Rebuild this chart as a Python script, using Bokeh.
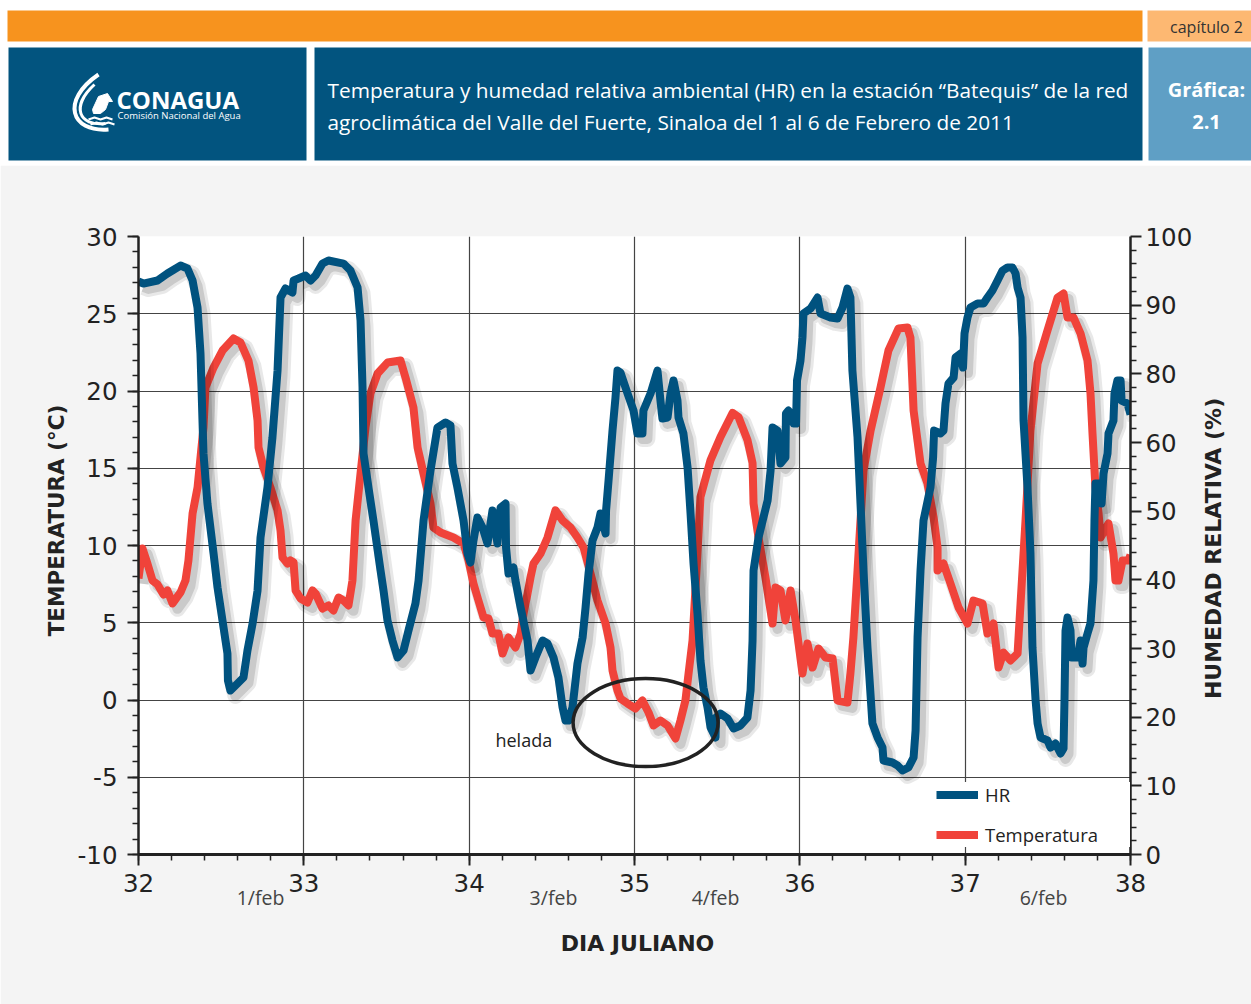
import math
from bokeh.plotting import figure
from bokeh.models import (Range1d, LinearAxis, SingleIntervalTicker, FixedTicker,
                          Legend, LegendItem, Label, ColumnDataSource)
from bokeh.layouts import column
from bokeh.embed import file_html
from bokeh.resources import INLINE
from bokeh.core.properties import value
from bokeh.transform import dodge

# ---------------- data ----------------
temp_day = [32.000, 32.024, 32.054, 32.085, 32.115, 32.151, 32.175, 32.206, 32.254, 32.284,
            32.302, 32.327, 32.357, 32.393, 32.405, 32.454, 32.508, 32.575, 32.617, 32.665,
            32.696, 32.720, 32.726, 32.756, 32.798, 32.841, 32.859, 32.871, 32.901, 32.919,
            32.938, 32.950, 32.980, 33.022, 33.052, 33.071, 33.113, 33.149, 33.179, 33.210,
            33.240, 33.270, 33.294, 33.313, 33.343, 33.373, 33.403, 33.446, 33.506, 33.585,
            33.615, 33.663, 33.688, 33.724, 33.766, 33.784, 33.827, 33.905, 33.966, 33.996,
            34.026, 34.056, 34.087, 34.117, 34.141, 34.177, 34.202, 34.238, 34.280, 34.311,
            34.329, 34.353, 34.371, 34.389, 34.432, 34.474, 34.522, 34.565, 34.613, 34.655,
            34.692, 34.734, 34.776, 34.825, 34.855, 34.867, 34.897, 34.915, 34.958, 35.006,
            35.048, 35.085, 35.115, 35.157, 35.200, 35.248, 35.278, 35.308, 35.327, 35.351,
            35.375, 35.399, 35.460, 35.520, 35.593, 35.629, 35.683, 35.714, 35.720, 35.750,
            35.792, 35.835, 35.853, 35.883, 35.913, 35.944, 35.974, 36.016, 36.046, 36.077,
            36.113, 36.155, 36.198, 36.228, 36.288, 36.306, 36.324, 36.349, 36.385, 36.428,
            36.488, 36.536, 36.597, 36.651, 36.669, 36.688, 36.730, 36.772, 36.809, 36.833,
            36.833, 36.869, 36.911, 36.960, 37.014, 37.050, 37.105, 37.135, 37.171, 37.202,
            37.232, 37.274, 37.317, 37.335, 37.365, 37.395, 37.438, 37.498, 37.559, 37.595,
            37.619, 37.655, 37.698, 37.740, 37.758, 37.770, 37.788, 37.807, 37.819, 37.867,
            37.897, 37.909, 37.927, 37.952, 37.988, 38.000]
temp_c = [7.86, 9.81, 8.83, 7.73, 7.48, 6.83, 7.09, 6.25, 6.96, 7.73,
          9.03, 12.07, 13.75, 17.64, 20.23, 21.52, 22.62, 23.40, 23.14, 21.97,
          20.23, 18.09, 16.34, 15.05, 13.75, 12.27, 10.97, 9.22, 8.83, 9.03,
          8.90, 7.09, 6.57, 6.31, 7.09, 6.89, 5.92, 6.12, 5.79, 6.63,
          6.44, 6.12, 7.73, 11.62, 14.66, 17.64, 19.84, 21.13, 21.84, 21.97,
          20.87, 18.93, 16.34, 14.66, 12.72, 11.17, 10.84, 10.52, 10.13, 9.03,
          7.54, 6.44, 5.34, 5.28, 4.30, 4.30, 3.01, 4.05, 3.40, 4.30,
          5.60, 6.89, 7.93, 8.83, 9.48, 10.52, 12.27, 11.62, 11.17, 10.52,
          9.87, 8.19, 6.44, 4.95, 3.40, 1.91, 0.61, 0.10, -0.23, -0.55,
          -0.03, -0.81, -1.65, -1.33, -1.65, -2.49, -1.33, -0.03, 1.72, 3.85,
          8.38, 13.14, 15.53, 17.02, 18.58, 18.32, 16.83, 15.34, 12.72, 10.52,
          7.93, 4.95, 7.28, 7.09, 5.15, 7.09, 5.15, 1.72, 3.66, 2.10,
          3.33, 2.75, 2.69, -0.03, -0.16, 1.72, 4.05, 8.38, 14.85, 17.44,
          20.23, 22.62, 24.05, 24.11, 23.46, 18.74, 15.31, 14.01, 11.81, 9.87,
          8.38, 8.83, 7.54, 5.99, 4.95, 6.44, 6.25, 4.30, 4.95, 2.10,
          3.07, 2.56, 3.01, 6.25, 11.62, 17.44, 21.78, 23.92, 26.05, 26.31,
          24.76, 24.76, 23.72, 21.97, 19.84, 17.28, 13.75, 12.07, 10.52, 11.42,
          9.48, 7.73, 7.73, 9.03, 9.03, 9.40]

hr_day = [32.000, 32.030, 32.115, 32.175, 32.254, 32.296, 32.327, 32.357, 32.375, 32.387,
          32.393, 32.417, 32.454, 32.478, 32.508, 32.538, 32.541, 32.556, 32.599, 32.635,
          32.659, 32.690, 32.720, 32.738, 32.780, 32.810, 32.841, 32.859, 32.889, 32.931,
          32.938, 32.968, 33.010, 33.040, 33.071, 33.113, 33.149, 33.240, 33.282, 33.325,
          33.343, 33.355, 33.361, 33.391, 33.421, 33.464, 33.482, 33.506, 33.536, 33.567,
          33.603, 33.633, 33.675, 33.694, 33.724, 33.766, 33.808, 33.857, 33.887, 33.899,
          33.929, 33.966, 33.990, 34.008, 34.026, 34.050, 34.081, 34.111, 34.141, 34.171,
          34.190, 34.220, 34.223, 34.238, 34.268, 34.280, 34.311, 34.353, 34.371, 34.401,
          34.444, 34.474, 34.510, 34.540, 34.565, 34.583, 34.601, 34.625, 34.655, 34.686,
          34.704, 34.722, 34.746, 34.776, 34.794, 34.825, 34.828, 34.843, 34.867, 34.885,
          34.897, 34.915, 34.958, 34.994, 35.018, 35.048, 35.054, 35.097, 35.139, 35.157,
          35.169, 35.200, 35.218, 35.236, 35.260, 35.266, 35.296, 35.321, 35.339, 35.357,
          35.381, 35.399, 35.417, 35.442, 35.460, 35.490, 35.493, 35.520, 35.563, 35.599,
          35.641, 35.683, 35.702, 35.714, 35.720, 35.750, 35.805, 35.823, 35.835, 35.865,
          35.883, 35.913, 35.916, 35.931, 35.962, 35.977, 35.983, 36.004, 36.016, 36.022,
          36.065, 36.107, 36.125, 36.185, 36.228, 36.258, 36.288, 36.306, 36.318, 36.349,
          36.367, 36.385, 36.409, 36.439, 36.470, 36.500, 36.506, 36.560, 36.591, 36.621,
          36.657, 36.688, 36.700, 36.712, 36.730, 36.748, 36.790, 36.806, 36.812, 36.851,
          36.869, 36.881, 36.899, 36.930, 36.942, 36.972, 36.987, 36.996, 37.014, 37.032,
          37.075, 37.111, 37.135, 37.165, 37.196, 37.226, 37.256, 37.286, 37.305, 37.317,
          37.335, 37.347, 37.353, 37.377, 37.395, 37.407, 37.426, 37.438, 37.456, 37.498,
          37.516, 37.546, 37.577, 37.595, 37.601, 37.607, 37.619, 37.637, 37.643, 37.680,
          37.698, 37.710, 37.716, 37.740, 37.758, 37.776, 37.782, 37.788, 37.819, 37.825,
          37.837, 37.861, 37.867, 37.897, 37.903, 37.921, 37.940, 37.946, 37.982, 38.000]
hr_val = [83.44, 83.15, 83.59, 84.61, 85.77, 85.34, 83.59, 79.66, 72.96, 63.20,
          58.40, 51.11, 43.83, 38.88, 34.08, 29.27, 25.34, 23.88, 24.90, 25.78,
          29.71, 33.64, 38.44, 46.16, 53.44, 60.73, 70.48, 81.11, 82.42, 81.84,
          83.59, 83.88, 84.32, 83.59, 84.32, 86.06, 86.50, 86.06, 85.04, 82.57,
          77.76, 68.01, 58.40, 53.44, 48.64, 41.36, 38.44, 34.08, 31.16, 28.69,
          29.71, 32.62, 36.55, 39.90, 48.64, 55.92, 62.18, 62.91, 62.47, 56.94,
          53.44, 48.64, 43.83, 42.52, 45.73, 49.08, 47.62, 45.29, 50.09, 45.29,
          50.53, 51.11, 44.71, 40.92, 41.79, 39.90, 35.97, 31.16, 26.80, 28.69,
          31.16, 30.73, 28.69, 25.78, 21.41, 19.51, 19.51, 21.41, 27.81, 31.60,
          35.97, 40.92, 45.73, 47.62, 49.66, 46.75, 50.09, 54.46, 61.74, 66.55,
          70.48, 70.19, 67.13, 64.66, 61.31, 61.31, 64.66, 67.13, 70.48, 66.11,
          63.49, 63.64, 67.13, 69.03, 66.11, 63.64, 61.31, 56.36, 49.66, 42.38,
          35.10, 28.25, 24.32, 21.41, 18.49, 17.04, 19.95, 20.53, 19.80, 18.35,
          18.79, 19.95, 23.88, 31.16, 41.36, 46.16, 51.55, 55.92, 62.18, 61.74,
          56.94, 57.81, 64.22, 64.66, 62.76, 62.76, 69.03, 71.94, 75.29, 78.78,
          79.51, 81.11, 78.78, 78.20, 78.05, 79.66, 82.42, 81.11, 70.48, 60.73,
          51.11, 41.36, 30.14, 19.08, 17.04, 15.58, 13.69, 13.40, 12.96, 12.23,
          12.67, 14.13, 18.06, 31.60, 41.36, 48.64, 53.44, 57.81, 61.74, 61.31,
          61.74, 65.68, 68.59, 69.46, 72.38, 72.96, 70.92, 75.87, 78.20, 79.66,
          80.24, 80.24, 81.11, 82.13, 83.59, 85.04, 85.48, 85.48, 84.61, 82.57,
          81.11, 75.29, 63.20, 53.44, 43.83, 30.14, 22.43, 19.08, 17.04, 16.60,
          15.58, 16.16, 14.71, 15.44, 22.86, 32.62, 34.51, 32.62, 28.69, 28.69,
          31.16, 27.81, 30.14, 32.18, 33.64, 39.90, 48.64, 54.03, 54.03, 51.11,
          55.48, 58.40, 61.31, 63.20, 67.13, 69.03, 69.03, 66.11, 65.68, 64.07]

temp_ticks = [-10, -5, 0, 5, 10, 15, 20, 25, 30]
temp_tick_labels = ["-10", "-5", "0", "5", "10", "15", "20", "25", "30"]
hr_ticks = [0, 10, 20, 30, 40, 50, 60, 70, 80, 90]
hr_tick_labels = ["0", "10", "20", "30", "40", "50", "60", "80", "90", "100"]
date_labels = ["1/feb", "3/feb", "4/feb", "6/feb"]
date_pos = [32.738, 34.510, 35.490, 37.474]

title_lines = ["Temperatura y humedad relativa ambiental (HR) en la estación “Batequis” de la red",
               "agroclimática del Valle del Fuerte, Sinaloa del 1 al 6 de Febrero de 2011"]

W = 1251
HH = 165
CH = 839
BLUE = "#02547F"
RED = "#F0433A"
HRBLUE = "#00527F"

# ---------------- header ----------------
hd = figure(width=W, height=HH, x_range=Range1d(0, W), y_range=Range1d(HH, 0),
            output_backend="svg", toolbar_location=None, min_border=0,
            x_axis_location=None, y_axis_location=None, outline_line_color=None,
            background_fill_color="white", border_fill_color="white")
hd.grid.visible = False
hd.quad(left=[7, 1147, 8, 314, 1148], right=[1142, W, 306, 1142, W],
        top=[10, 10, 47, 47, 47], bottom=[41, 41, 160, 160, 160],
        fill_color=["#F7931E", "#FDB872", BLUE, BLUE, "#5F9FC5"], line_color=None)
hd.text(x=[327, 327], y=[89, 121], text=title_lines, text_font=value("Open Sans"),
        text_font_size="20.8px", text_color="white", text_baseline="middle", text_align="left")
hd.text(x=[1206], y=[26], text=["capítulo 2"], text_font=value("Open Sans"),
        text_font_size="16px", text_color="#333333", text_baseline="middle", text_align="center")
hd.text(x=[1206, 1206], y=[89, 121], text=["Gráfica:", "2.1"], text_font=value("Open Sans"),
        text_font_style="bold", text_font_size="20px", text_color="white",
        text_baseline="middle", text_align="center")
hd.text(x=[116], y=[99], text=["CONAGUA"], text_font=value("Open Sans"), text_font_style="bold",
        text_font_size="24px", text_color="white", text_baseline="middle", text_align="left")
hd.text(x=[117], y=[115], text=["Comisión Nacional del Agua"], text_font=value("Open Sans"),
        text_font_size="9.5px", text_color="white", text_baseline="middle", text_align="left")
# logo strokes
hd.bezier(x0=[98, 94], y0=[74, 84], x1=[108, 105], y1=[129, 123],
          cx0=[60, 70], cy0=[100, 106], cx1=[70, 78], cy1=[132, 126],
          line_color="white", line_width=[4, 3])
hd.patch(x=[92, 98, 107, 112, 108, 105, 100, 93], y=[109, 96, 93, 101, 101, 109, 113, 113],
         fill_color="white", line_color="white")
hd.multi_line(xs=[[88, 94, 100, 106, 112], [90, 96, 102, 108, 114]],
              ys=[[119, 117, 119, 117, 119], [124, 122, 124, 122, 124]],
              line_color="white", line_width=2)

# ---------------- chart ----------------
p = figure(width=W, height=CH, x_range=Range1d(32, 38), y_range=Range1d(-10, 30),
           output_backend="svg", toolbar_location=None,
           min_border_left=138, min_border_right=121, min_border_top=71, min_border_bottom=150,
           background_fill_color="white", border_fill_color="#F4F4F4", outline_line_color=None)
p.extra_y_ranges = {"hr": Range1d(0, 90)}
for f in (hd, p):
    if "frame_align" in f.properties():
        f.frame_align = False

src_t = ColumnDataSource(dict(day=temp_day, temp=temp_c))
src_h = ColumnDataSource(dict(day=hr_day, hr=hr_val))

# soft drop shadows (two layers) then lines
for w, a in ((16, 0.09), (10, 0.13)):
    p.line(x=dodge("day", 0.03), y=dodge("temp", -0.35), source=src_t, line_color="black",
           line_alpha=a, line_width=w, line_join="round")
t_r = p.line(x="day", y="temp", source=src_t, line_color=RED, line_width=8, line_join="round")
for w, a in ((16, 0.09), (10, 0.13)):
    p.line(x=dodge("day", 0.03), y=dodge("hr", -0.79), source=src_h, y_range_name="hr",
           line_color="black", line_alpha=a, line_width=w, line_join="round")
h_r = p.line(x="day", y="hr", source=src_h, y_range_name="hr", line_color=HRBLUE,
             line_width=8, line_join="round")

# frost annotation
p.ellipse(x=[35.067], y=[-1.46], width=[0.877], height=[5.70], fill_color=None,
          line_color="#222222", line_width=3.5)
p.add_layout(Label(x=34.159, y=-2.62, text="helada", text_font="Open Sans", text_font_size="18px",
                   text_color="#222222", text_baseline="middle", text_align="left"))

# axes
ax = p.xaxis[0]
ax.ticker = SingleIntervalTicker(interval=1, num_minor_ticks=5)
ay = p.yaxis[0]
ay.ticker = SingleIntervalTicker(interval=5, num_minor_ticks=5)
ay.major_label_overrides = {t: l for t, l in zip(temp_ticks, temp_tick_labels)}
ar = LinearAxis(y_range_name="hr", ticker=FixedTicker(ticks=hr_ticks,
                minor_ticks=[v for v in range(0, 91, 2) if v % 10]))
ar.major_label_overrides = {t: l for t, l in zip(hr_ticks, hr_tick_labels)}
p.add_layout(ar, "right")

for a in (ax, ay, ar):
    a.axis_line_color = "#222222"
    a.axis_line_width = 2.5
    a.major_tick_line_color = "#222222"
    a.minor_tick_line_color = "#222222"
    a.major_tick_line_width = 2
    a.minor_tick_line_width = 1.5
    a.major_tick_in = 0
    a.minor_tick_in = 0
    a.major_tick_out = 11
    a.minor_tick_out = 6
    a.major_label_text_font = "DejaVu Sans"
    a.major_label_text_font_size = "24.5px"
    a.major_label_text_color = "#222222"
ax.axis_line_width = 3
ax.major_label_standoff = 8
ay.major_label_standoff = 10
ar.major_label_standoff = 4

p.xgrid.ticker = FixedTicker(ticks=[33, 34, 35, 36, 37])
p.ygrid.ticker = FixedTicker(ticks=[-5, 0, 5, 10, 15, 20, 25])
p.grid.grid_line_color = "#444444"
p.grid.grid_line_width = 1.2

# axis titles and day-of-month labels (placed in side panels so they are not clipped)
p.add_layout(Label(x=31.504, y=11.62, text="TEMPERATURA (°C)", angle=math.pi / 2,
                   text_font="DejaVu Sans", text_font_style="bold", text_font_size="21.5px",
                   text_color="#222222", text_align="center", text_baseline="middle"), "left")
p.add_layout(Label(x=38.502, y=9.81, text="HUMEDAD RELATIVA (%)", angle=math.pi / 2,
                   text_font="DejaVu Sans", text_font_style="bold", text_font_size="22px",
                   text_color="#222222", text_align="center", text_baseline="middle"), "right")
p.add_layout(Label(x=35.018, y=-15.76, text="DIA JULIANO",
                   text_font="DejaVu Sans", text_font_style="bold", text_font_size="22px",
                   text_color="#222222", text_align="center", text_baseline="middle"), "above")
for i, (d, pos) in enumerate(zip(date_labels, date_pos)):
    p.add_layout(Label(x=pos, y=-12.78, text=d, text_font="Open Sans", text_font_size="19.5px",
                       text_color="#444444", text_align="center", text_baseline="middle"),
                 "above" if i == 3 else "below")

legend = Legend(items=[LegendItem(label="HR", renderers=[h_r]),
                       LegendItem(label="Temperatura", renderers=[t_r])],
                location=(798, 7), margin=0, padding=7, spacing=15,
                glyph_width=42, glyph_height=25, label_height=25, label_width=145,
                label_standoff=7, border_line_color=None, background_fill_color="white",
                background_fill_alpha=1.0, label_text_font="Open Sans",
                label_text_font_size="18.5px", label_text_color="#222222")
p.add_layout(legend)

layout = column(hd, p, spacing=0)
open("out.html", "w").write(file_html(layout, INLINE))
